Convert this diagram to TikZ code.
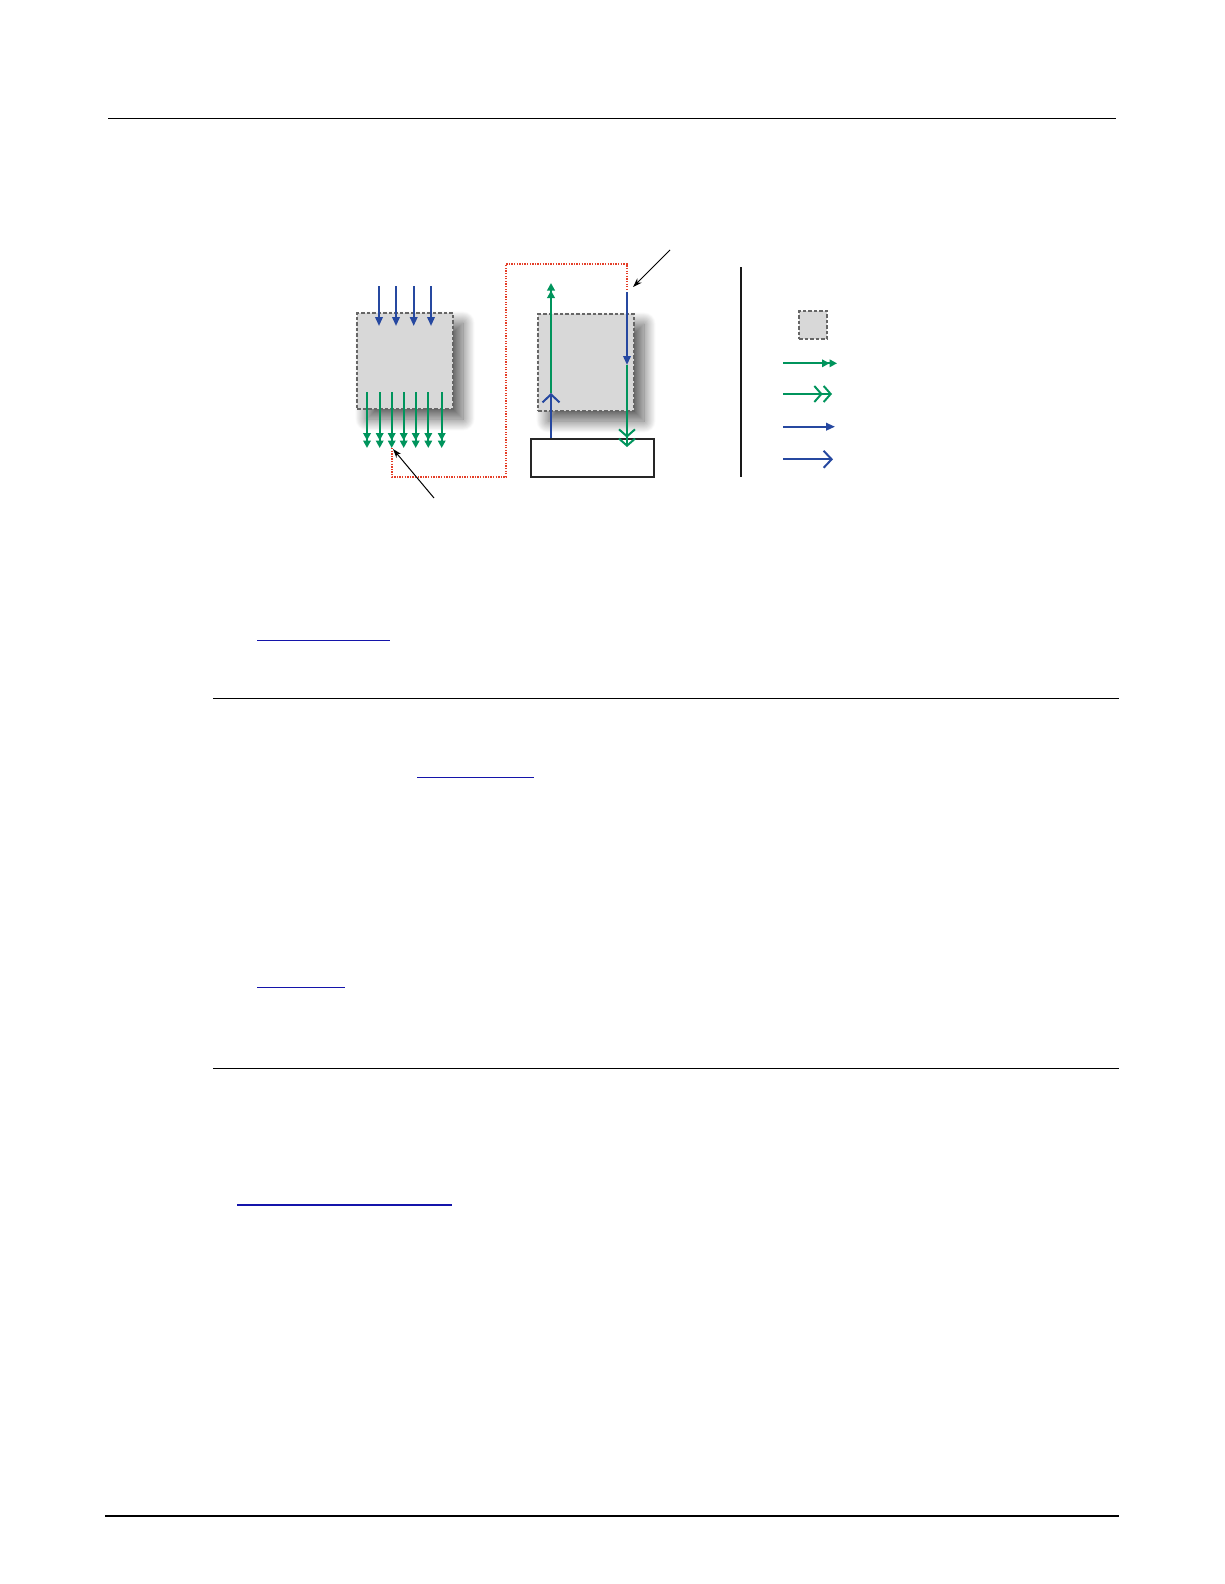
\documentclass[tikz,border=0pt]{standalone}
\usetikzlibrary{arrows.meta,shadows.blur}
\definecolor{fblue}{RGB}{38,72,160}
\definecolor{fgreen}{RGB}{0,148,92}
\definecolor{fred}{RGB}{228,62,40}
\definecolor{fgray}{RGB}{216,216,216}
\definecolor{flink}{RGB}{20,20,170}
\tikzset{
  rule/.style={line width=1.3pt,black},
  linkline/.style={line width=1.4pt,flink},
  regbox/.style={draw=black!60,dash pattern=on 3.5pt off 2pt,line width=1.2pt,fill=fgray,inner sep=0pt,
     blur shadow={shadow xshift=10pt,shadow yshift=-10pt,shadow blur radius=12pt,shadow blur steps=40,shadow opacity=65}},
  legbox/.style={draw=black!60,dash pattern=on 3.5pt off 2pt,line width=1.2pt,fill=fgray,inner sep=0pt},
  plainbox/.style={draw=black!85,line width=2pt,fill=white,inner sep=0pt},
  bsolid/.style={fblue,line width=2pt,-{Triangle[length=9pt,width=7.5pt]}},
  gsolid/.style={fgreen,line width=2pt,-{Triangle[length=7.5pt,width=7.5pt] Triangle[length=7.5pt,width=7.5pt]}},
  bopen/.style={fblue,line width=2pt,-{Straight Barb[length=8pt,width=17pt,line width=2pt]}},
  gopen/.style={fgreen,line width=2pt,-{Straight Barb[length=7pt,width=16pt,line width=2pt] Straight Barb[length=7pt,width=16pt,line width=2pt]}},
  redpath/.style={fred,line width=1.8pt,dash pattern=on 1.3pt off 1.3pt},
  pointer/.style={black,line width=1pt,-{Stealth[length=9pt,width=6pt]}}
}
\begin{document}
\begin{tikzpicture}[x=1pt,y=-1pt]
\useasboundingbox (0,0) rectangle (1224,1584);
% page rules
\draw[rule] (108,118.3) -- (1116,118.3);
\draw[rule] (213,698.3) -- (1119,698.3);
\draw[rule] (213,1068.3) -- (1119,1068.3);
\draw[line width=2.5pt] (105,1516) -- (1119,1516);
% link underlines
\draw[linkline] (257,640.3) -- (390,640.3);
\draw[linkline] (417,777.7) -- (534,777.7);
\draw[linkline] (257,987.3) -- (345,987.3);
\draw[linkline] (237,1205) -- (452,1205);
% red dotted path
\draw[redpath] (392,448) -- (392,477) -- (506,477) -- (506,264) -- (627,264) -- (627,291);
% left region box
\node[regbox,minimum width=96pt,minimum height=96pt] (lbox) at (405,361) {};
\foreach \x in {379,396,413.7,431}
  \draw[bsolid] (\x,286) -- (\x,326);
\foreach \x in {367,379.7,391.7,403.7,415.7,428.3,441.7}
  \draw[gsolid] (\x,392) -- (\x,448);
% right region box
\node[regbox,minimum width=96pt,minimum height=97pt] (rbox) at (586,362.5) {};
\node[plainbox,minimum width=123pt,minimum height=38pt] (pbox) at (592.5,457.5) {};
\coordinate (gtop) at (551,283);
\coordinate (gmid) at (551,393);
\draw[gsolid] (gmid) -- (gtop);
\draw[bopen] (pbox.north -| gmid) -- (gmid);
\coordinate (btop) at (627,292);
\coordinate (bmid) at (627,365);
\coordinate (gend) at (627,447);
\draw[bsolid] (btop) -- (bmid);
\draw[gopen] (bmid) -- (gend);
% pointers
\coordinate (p1s) at (434,498);
\coordinate (p1e) at (393,449);
\draw[pointer] (p1s) -- (p1e);
\coordinate (p2s) at (670,250);
\coordinate (p2e) at (633,287);
\draw[pointer] (p2s) -- (p2e);
% legend
\draw[line width=2pt,black!90] (741,267) -- (741,477);
\node[legbox,minimum width=28pt,minimum height=28pt] (lgbox) at (813,325) {};
\draw[gsolid] (783,363.3) -- (837,363.3);
\draw[gopen] (783,394) -- (832,394);
\draw[bsolid] (783,426.7) -- (835,426.7);
\draw[bopen] (783,459.3) -- (833,459.3);
\end{tikzpicture}
\end{document}
